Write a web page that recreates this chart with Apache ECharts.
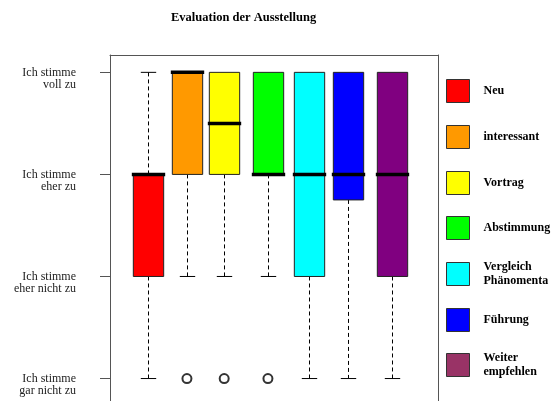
<!DOCTYPE html>
<html>
<head>
<meta charset="utf-8">
<script src="https://cdn.jsdelivr.net/npm/echarts@6/dist/echarts.min.js"></script>
<style>html,body{margin:0;padding:0;background:#fff}#c{width:553px;height:401px}</style>
</head>
<body>
<div id="c"></div>
<script>
// ---- data ----
const categories = ['Neu', 'interessant', 'Vortrag', 'Abstimmung', 'Vergleich\nPhänomenta', 'Führung', 'Weiter\nempfehlen'];
const boxPositions = [1, 1.95, 2.87, 3.95, 4.97, 5.92, 7.01];
const whiskerLow  = [1, 2, 2, 2, 1, 1, 1];
const quart1      = [2, 3, 3, 3, 2, 2.75, 2];
const medians     = [3, 4, 3.5, 3, 3, 3, 3];
const quart3      = [3, 4, 4, 4, 4, 4, 4];
const whiskerHigh = [4, 4, 4, 4, 4, 4, 4];
const outlierBox    = [1, 2, 3];
const outlierValues = [1, 1, 1];
const tickValues = [1, 2, 3, 4];
const tickLabels = ['Ich stimme\ngar nicht zu', 'Ich stimme\neher nicht zu', 'Ich stimme\neher zu', 'Ich stimme\nvoll zu'];
const titleText = 'Evaluation der Ausstellung';

// ---- styles ----
const boxColors    = ['#FF0000', '#FF9900', '#FFFF00', '#00FF00', '#00FFFF', '#0000FF', '#800080'];
const legendColors = ['#FF0000', '#FF9900', '#FFFF00', '#00FF00', '#00FFFF', '#0000FF', '#993366'];
const serif = "'Liberation Serif', 'DejaVu Serif', serif";
const frameColor = '#555';
const BOX_W = 0.75, STAPLE_W = 0.38;

const chart = echarts.init(document.getElementById('c'), null, {renderer: 'canvas'});

function renderBox(params, api) {
  const x = api.value(0), lo = api.value(1), q1 = api.value(2), med = api.value(3), q3 = api.value(4), hi = api.value(5);
  const half = api.size([BOX_W, 0])[0] / 2;
  const sHalf = api.size([STAPLE_W, 0])[0] / 2;
  const pQ1 = api.coord([x, q1]), pQ3 = api.coord([x, q3]), pMed = api.coord([x, med]);
  const pLo = api.coord([x, lo]), pHi = api.coord([x, hi]);
  const cx = Math.round(pQ1[0]) + 0.5;
  const dash = {stroke: '#000', lineWidth: 1, lineDash: [4, 3], fill: null};
  const solid = {stroke: '#000', lineWidth: 1, fill: null};
  const children = [];
  if (lo < q1) {
    children.push({type: 'line', shape: {x1: cx, y1: pQ1[1], x2: cx, y2: pLo[1]}, style: dash});
    children.push({type: 'line', shape: {x1: cx - sHalf, y1: pLo[1], x2: cx + sHalf, y2: pLo[1]}, style: solid});
  }
  if (hi > q3) {
    children.push({type: 'line', shape: {x1: cx, y1: pQ3[1], x2: cx, y2: pHi[1]}, style: dash});
    children.push({type: 'line', shape: {x1: cx - sHalf, y1: pHi[1], x2: cx + sHalf, y2: pHi[1]}, style: solid});
  }
  children.push({
    type: 'rect',
    shape: {x: cx - half, y: pQ3[1], width: half * 2, height: pQ1[1] - pQ3[1]},
    style: {fill: api.visual('color'), stroke: '#222', lineWidth: 1}
  });
  children.push({
    type: 'line',
    shape: {x1: cx - half - 1.5, y1: pMed[1], x2: cx + half + 1.5, y2: pMed[1]},
    style: {stroke: '#000', lineWidth: 3.5}
  });
  return {type: 'group', children: children};
}

const series = categories.map((name, i) => ({
  type: 'custom',
  name: name,
  renderItem: renderBox,
  clip: false,
  itemStyle: {color: boxColors[i]},
  encode: {x: 0, y: [1, 2, 3, 4, 5]},
  data: [[boxPositions[i], whiskerLow[i], quart1[i], medians[i], quart3[i], whiskerHigh[i]]],
  silent: true,
  z: 2
}));

series.push({
  type: 'scatter',
  symbol: 'emptyCircle',
  symbolSize: 9,
  itemStyle: {color: '#000', borderWidth: 1.3},
  data: outlierBox.map((b, k) => [boxPositions[b], outlierValues[k]]),
  silent: true,
  z: 3
});

const legends = categories.map((name, i) => ({
  orient: 'vertical',
  left: 446,
  top: Math.round(79 + i * 45.8 - (name.indexOf('\n') >= 0 ? 2.5 : 0)),
  padding: 0,
  itemWidth: 23,
  itemHeight: 23,
  icon: 'rect',
  selectedMode: false,
  textStyle: {fontFamily: serif, fontWeight: 'bold', fontSize: 12, lineHeight: 14, color: '#000', padding: [0, 0, 0, 9]},
  data: [{name: name, itemStyle: {color: legendColors[i], borderColor: '#333', borderWidth: 1}}]
}));

const option = {
  backgroundColor: '#fff',
  animation: false,
  title: {
    text: titleText,
    left: 171,
    top: 11,
    padding: 0,
    textStyle: {fontFamily: serif, fontWeight: 'bold', fontSize: 12.5, color: '#000'}
  },
  legend: legends,
  grid: {left: 110, right: 115, top: 55, height: 346, show: false, containLabel: false},
  xAxis: {
    type: 'value', min: 0.05, max: 8.15, position: 'top',
    axisLine: {show: true, onZero: false, lineStyle: {color: frameColor, width: 1}},
    axisTick: {show: false}, axisLabel: {show: false}, splitLine: {show: false}
  },
  yAxis: [{
    type: 'value', min: 0.78, max: 4.17,
    axisLine: {show: true, onZero: false, lineStyle: {color: frameColor, width: 1}},
    splitLine: {show: false},
    axisTick: {show: true, length: 10, customValues: tickValues, lineStyle: {color: frameColor}},
    axisLabel: {
      customValues: tickValues,
      margin: 34,
      fontFamily: serif, fontSize: 12, lineHeight: 12.5, color: '#222', align: 'right',
      formatter: v => '\n' + tickLabels[tickValues.indexOf(v)]
    }
  }, {
    type: 'value', min: 0.78, max: 4.17, position: 'right',
    axisLine: {show: true, onZero: false, lineStyle: {color: frameColor, width: 1}},
    axisTick: {show: false}, axisLabel: {show: false}, splitLine: {show: false}
  }],
  series: series
};
chart.setOption(option);
</script>
</body>
</html>
